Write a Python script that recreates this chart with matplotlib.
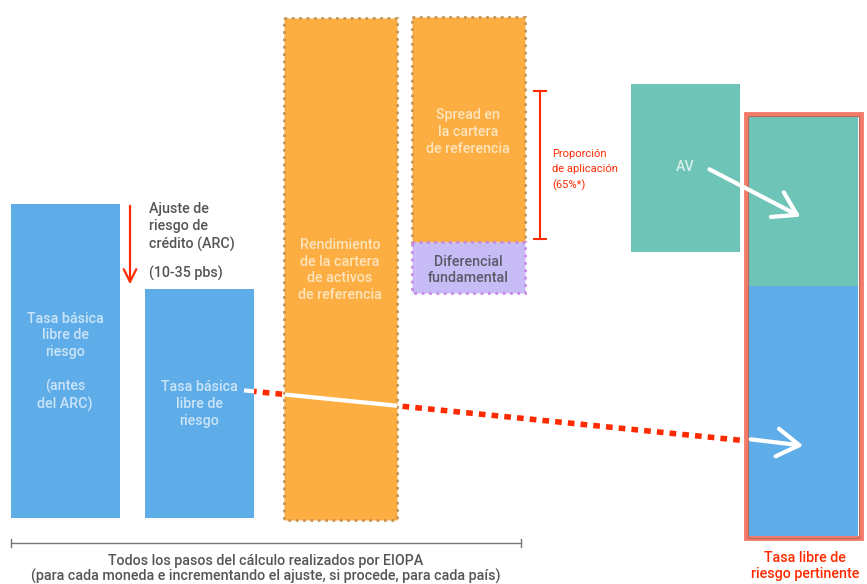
import matplotlib.pyplot as plt
from matplotlib.patches import FancyArrowPatch

# bloques del diagrama (coordenadas en pixeles, y hacia abajo)
bloques = ['antes_arc', 'tasa_basica', 'rendimiento', 'spread', 'diferencial', 'av', 'final_av', 'final_tasa']
x_izq = [11, 145, 284, 412, 412, 631, 749, 749]
anchos = [109, 109, 113, 113, 113, 109, 109, 109]
arriba = [204, 289, 18, 17, 242, 84, 117, 286]
abajo = [518, 518, 520, 242, 293, 252, 286, 538]
colores = ['#5EADE8', '#5EADE8', '#FDAE42', '#FDAE42', '#C8BCF6', '#6EC4B6', '#6EC4B6', '#5EADE8']
bordes = ['none', 'none', '#C69452', '#C69452', '#C88AE6', 'none', 'none', 'none']

textos = ['Tasa básica\nlibre de\nriesgo\n\n(antes\ndel ARC)',
          'Tasa básica\nlibre de\nriesgo',
          'Rendimiento\nde la cartera\nde activos\nde referencia',
          'Spread en\nla cartera\nde referencia',
          'Diferencial\nfundamental',
          'AV', '', '']
texto_y = [362, 404, 270, 132, 270, 167, 0, 0]
texto_x = [65, 199, 340, 468, 468, 685, 0, 0]
texto_col = ['#CBE4F8', '#CBE4F8', '#FDE4BC', '#FDE4BC', '#5A5A66', '#D6EFEA', 'w', 'w']

# linea punteada de la tasa basica a la tasa pertinente
linea_x = [250, 748]
linea_y = [391, 441]

plt.rcParams['font.family'] = ['Roboto', 'DejaVu Sans']
fs = 10.3

fig = plt.figure(figsize=(8.67, 5.84), dpi=100)
ax = fig.add_axes([0, 0, 1, 1])
ax.set_xlim(0, 867)
ax.set_ylim(584, 0)
ax.axis('off')

for i in range(len(bloques)):
    ls = ':' if bordes[i] != 'none' else '-'
    ax.bar(x_izq[i], abajo[i] - arriba[i], width=anchos[i], bottom=arriba[i],
           align='edge', color=colores[i], edgecolor=bordes[i], linewidth=2 if bordes[i] != 'none' else 0,
           linestyle=ls, zorder=2)
    if textos[i]:
        ax.text(texto_x[i], texto_y[i], textos[i], color=texto_col[i], ha='center', va='center',
                fontsize=fs, fontweight='medium', linespacing=1.25, zorder=5)

# marco rojo de la tasa pertinente
ax.bar(746, 538 - 114, width=115, bottom=114, align='edge', color='none',
       edgecolor='#F47B69', linewidth=3.5, zorder=3)
ax.bar(748, 538 - 116, width=111, bottom=116, align='edge', color='none',
       edgecolor='#B8685C', linewidth=0.8, zorder=3)

# linea punteada roja
ax.plot(linea_x, linea_y, color='#FF2A00', linewidth=4, linestyle=(0, (1.2, 1.1)), zorder=1)


def y_linea(x):
    return linea_y[0] + (x - linea_x[0]) * (linea_y[1] - linea_y[0]) / (linea_x[1] - linea_x[0])


ax.plot([244, 254], [y_linea(244), y_linea(254)], color='white', lw=3, zorder=4, solid_capstyle='butt')
ax.plot([285, 397], [y_linea(285), y_linea(397)], color='white', lw=3, zorder=4, solid_capstyle='butt')

# flechas blancas
for (x0, y0), (x1, y1) in [((748, 439), (806, 446)), ((707, 168), (803, 218))]:
    ax.add_patch(FancyArrowPatch((x0, y0), (x1, y1), arrowstyle='->,head_length=8,head_width=5',
                                 color='white', lw=3, mutation_scale=2, zorder=6))

# flecha ARC
ax.annotate('', xy=(130, 287), xytext=(130, 203),
            arrowprops=dict(arrowstyle='->,head_length=0.9,head_width=0.45', color='#FF2A00', lw=1.6))
ax.text(149, 227, 'Ajuste de\nriesgo de\ncrédito (ARC)', color='#555555', fontsize=fs,
        fontweight='medium', va='center', ha='left', linespacing=1.3)
ax.text(149, 273, '(10-35 pbs)', color='#555555', fontsize=fs, fontweight='medium', va='center', ha='left')

# corchete proporcion de aplicacion
ax.plot([540, 540], [91, 239], color='#FF2A00', lw=1.5)
ax.plot([534, 546], [91, 91], color='#FF2A00', lw=1.5)
ax.plot([534, 546], [239, 239], color='#FF2A00', lw=1.5)
ax.text(552, 170, 'Proporción\nde aplicación\n(65%*)', color='#FF2A00', fontsize=8,
        va='center', ha='left', linespacing=1.6)

# corchete inferior
ax.plot([11, 521], [543, 543], color='#777777', lw=1)
ax.plot([11, 11], [539, 547], color='#777777', lw=1)
ax.plot([521, 521], [539, 547], color='#777777', lw=1)
ax.text(266, 561, 'Todos los pasos del cálculo realizados por EIOPA', color='#555555',
        fontsize=fs, fontweight='medium', ha='center', va='center')
ax.text(266, 576, '(para cada moneda e incrementando el ajuste, si procede, para cada país)', color='#555555',
        fontsize=fs, fontweight='medium', ha='center', va='center')

ax.text(805, 566, 'Tasa libre de\nriesgo pertinente', color='#FF2A00', fontsize=fs,
        fontweight='medium', ha='center', va='center', linespacing=1.2)

fig.savefig('out.png', dpi=100)
